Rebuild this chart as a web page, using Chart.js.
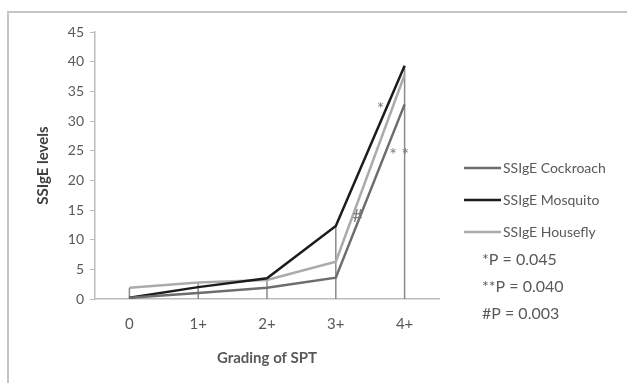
<!DOCTYPE html>
<html>
<head>
<meta charset="utf-8">
<script src="https://cdn.jsdelivr.net/npm/chart.js@4.4.0/dist/chart.umd.min.js"></script>
<style>
  html, body { margin: 0; padding: 0; background: #fff; }
  #wrap { width: 627px; height: 383px; position: relative; }
</style>
</head>
<body>
<div id="wrap"><canvas id="spt"></canvas></div>
<script>
// grading of SPT vs SSIgE levels
const grades = ['0', '1+', '2+', '3+', '4+'];
const cockroach = [0.2, 1.0, 1.9, 3.6, 32.8];
const mosquito = [0.2, 2.0, 3.5, 12.3, 39.3];
const housefly = [1.9, 2.8, 3.2, 6.3, 37.8];
const yTicks = [0, 5, 10, 15, 20, 25, 30, 35, 40, 45];
const pNotes = ['*P = 0.045', '**P = 0.040', '#P = 0.003'];
// significance marks: category position and value
const marks = [
    { text: '*', x: 3.65, y: 32.0 },
    { text: '* *', x: 3.92, y: 24.3 },
    { text: '#', x: 3.32, y: 14.0 }
];

const txt = '#595959';
const fontFam = 'Lato, "Open Sans", sans-serif';

const dropLines = {
    id: 'dropLines',
    beforeDatasetsDraw(chart) {
        const ctx = chart.ctx;
        const xs = chart.scales.x, ys = chart.scales.y;
        ctx.save();
        ctx.strokeStyle = '#8a8a8a';
        ctx.lineWidth = 1.5;
        grades.forEach((g, i) => {
            const top = Math.max(cockroach[i], mosquito[i], housefly[i]);
            const px = xs.getPixelForValue(i);
            ctx.beginPath();
            ctx.moveTo(px, ys.getPixelForValue(top));
            ctx.lineTo(px, ys.getPixelForValue(0));
            ctx.stroke();
        });
        ctx.restore();
    },
    afterDatasetsDraw(chart) {
        const ctx = chart.ctx;
        const xs = chart.scales.x, ys = chart.scales.y;
        ctx.save();
        ctx.fillStyle = '#7a7a7a';
        ctx.font = '18px ' + fontFam;
        ctx.textAlign = 'center';
        ctx.textBaseline = 'middle';
        marks.forEach(m => {
            const x0 = xs.getPixelForValue(Math.floor(m.x));
            const x1 = xs.getPixelForValue(Math.ceil(m.x));
            const px = x0 + (x1 - x0) * (m.x - Math.floor(m.x));
            ctx.fillText(m.text, px, ys.getPixelForValue(m.y));
        });
        ctx.restore();
    },
    afterDraw(chart) {
        const ctx = chart.ctx;
        ctx.save();
        // outer frame
        ctx.strokeStyle = '#c4c4c4';
        ctx.lineWidth = 2;
        ctx.beginPath();
        ctx.moveTo(8, 383);
        ctx.lineTo(8, 12);
        ctx.lineTo(627, 12);
        ctx.stroke();
        // legend
        ctx.font = '14px ' + fontFam;
        ctx.textBaseline = 'middle';
        ctx.fillStyle = txt;
        chart.data.datasets.forEach((ds, i) => {
            const y = 168 + i * 32;
            ctx.strokeStyle = ds.borderColor;
            ctx.lineWidth = 2.5;
            ctx.beginPath();
            ctx.moveTo(464, y);
            ctx.lineTo(501, y);
            ctx.stroke();
            ctx.fillText(ds.label, 503, y);
        });
        ctx.font = '16px ' + fontFam;
        pNotes.forEach((t, i) => {
            ctx.fillText(t, 482, 260 + i * 27);
        });
        ctx.restore();
    }
};

new Chart(document.getElementById('spt').getContext('2d'), {
    type: 'line',
    data: {
        labels: grades,
        datasets: [
            { label: 'SSIgE Cockroach', data: cockroach, borderColor: '#6d6d6d' },
            { label: 'SSIgE Mosquito', data: mosquito, borderColor: '#1c1c1c' },
            { label: 'SSIgE Housefly', data: housefly, borderColor: '#ababab' }
        ].map(d => Object.assign(d, { borderWidth: 2.5, pointRadius: 0, tension: 0, fill: false }))
    },
    options: {
        responsive: true,
        maintainAspectRatio: false,
        animation: false,
        layout: { padding: { left: 30, top: 32, right: 188, bottom: 12 } },
        plugins: { legend: { display: false }, tooltip: { enabled: false } },
        scales: {
            x: {
                offset: true,
                grid: { display: false },
                border: { color: '#bdbdbd', width: 1.5 },
                ticks: { color: txt, font: { family: fontFam, size: 15 }, padding: 8 },
                title: { display: true, text: 'Grading of SPT', color: txt, font: { family: fontFam, size: 15, weight: 'bold' } },
                afterFit: s => { s.height = 72; }
            },
            y: {
                min: 0,
                max: 45,
                afterBuildTicks: s => { s.ticks = yTicks.map(v => ({ value: v })); },
                grid: { drawOnChartArea: false, tickLength: 5, color: '#bdbdbd' },
                border: { color: '#bdbdbd', width: 1.5 },
                ticks: { color: txt, font: { family: fontFam, size: 14 }, padding: 6 },
                title: { display: true, text: 'SSIgE levels', color: '#404040', font: { family: fontFam, size: 15, weight: 'bold' } },
                afterFit: s => { s.width = 65; }
            }
        }
    },
    plugins: [dropLines]
});
</script>
</body>
</html>
